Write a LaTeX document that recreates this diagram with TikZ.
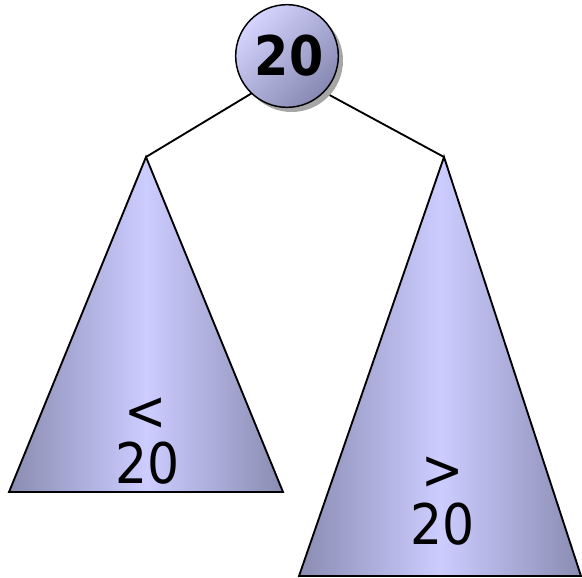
\documentclass[tikz,border=0pt]{standalone}
\usepackage{fontspec}
\setmainfont{DejaVu Sans Condensed}
\usetikzlibrary{shadows}
\definecolor{treeedge}{RGB}{138,140,178}
\definecolor{treemid}{RGB}{204,204,255}
\definecolor{rootlight}{RGB}{212,212,255}
\definecolor{rootdark}{RGB}{135,137,178}
\begin{document}
\begin{tikzpicture}[
  x=0.75pt, y=-0.75pt,
  root/.style={circle,draw,line width=1.1pt,minimum size=77pt,inner sep=0pt,
    top color=rootlight,bottom color=rootdark,shading angle=45,
    drop shadow={shadow xshift=3.5pt,shadow yshift=-3.5pt,fill=gray!70,opacity=1},
    font=\fontsize{41}{44}\selectfont\bfseries},
  subtree/.style={draw,line width=1.4pt,left color=treeedge,right color=treeedge,
    middle color=treemid},
  lbl/.style={inner sep=0pt,anchor=base,font=\fontsize{42}{46}\selectfont},
  branch/.style={draw,line width=1.4pt}]
\useasboundingbox (0,0) rectangle (582,578);
% apexes of the two subtrees
\coordinate (lapex) at (146,157);
\coordinate (rapex) at (444,157);
\coordinate (hub) at (287,72);
\draw[branch] (lapex) -- (hub) -- (rapex);
% subtrees
\draw[subtree] (lapex) -- (9,492) -- (283,492) -- cycle;
\draw[subtree] (rapex) -- (299,576) -- (581,576) -- cycle;
% root
\node[root] (top) at (287,56) {\hspace{3pt}20};
% labels
\node[lbl] (lsign) at (146,430) {<};
\node[lbl] (lval) at (148,483) {20};
\node[lbl] (rsign) at (443,489) {>};
\node[lbl] (rval) at (443,544) {20};
\end{tikzpicture}
\end{document}
